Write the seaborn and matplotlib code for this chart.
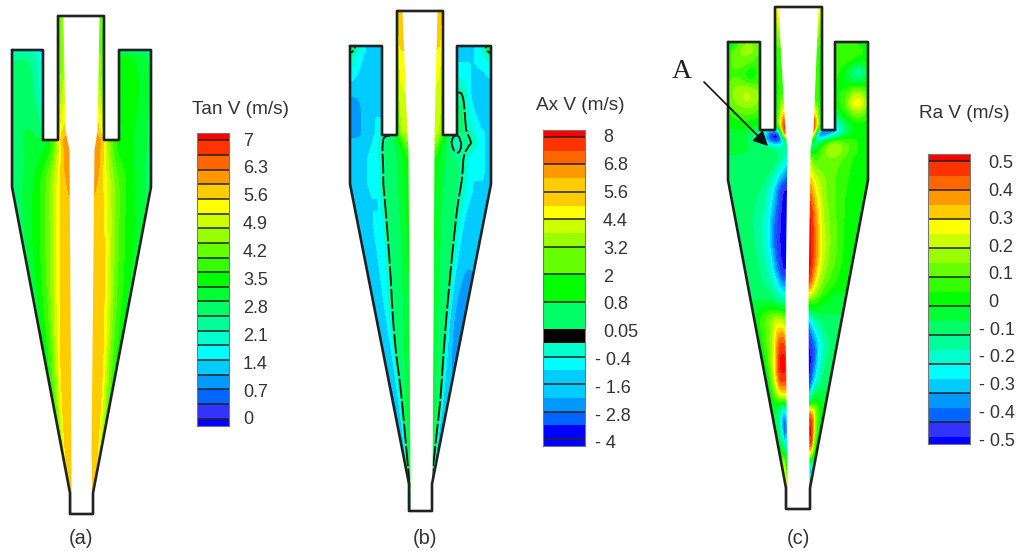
import numpy as np
import seaborn as sns
import matplotlib.pyplot as plt
from matplotlib.colors import ListedColormap
from matplotlib.patches import Polygon

W, H = 1018, 551

# band colours bottom to top, shared by the three contour fields
band_colors = ['#0000ff', '#3333ff', '#0066ff', '#0099ff', '#00ccff', '#00ffff', '#00ffcc',
               '#00ff99', '#00ff66', '#00ff33', '#00ff00', '#33ff00', '#66ff00', '#99ff00',
               '#ccff00', '#ffff00', '#ffcc00', '#ff9900', '#ff6600', '#ff3300', '#ff0000']

# fraction of the way from outer wall to the central white core
frac = [0, .2, .4, .6, .75, .9, 1]
frac_b = [0, .2, .4, .5, .6, .75, .9, 1]

# panel (a) tangential velocity
tan_ticks = ['7', '6.3', '5.6', '4.9', '4.2', '3.5', '2.8', '2.1', '1.4', '0.7', '0']
tan_y = [16, 50, 56, 90, 130, 142, 180, 250, 350, 440, 493, 516]
tan_left = [[2.8, 2.8, 2.8, 2.8, 2.8, 3.6, 4.6],
            [1.5, 1.5, 1.5, 1.2, 0.8, 3.8, 4.6],
            [2.6, 2.7, 2.6, 1.6, 1.4, 3.8, 4.6],
            [2.8, 2.8, 2.7, 1.6, 1.6, 4.0, 4.9],
            [2.7, 3.0, 3.0, 2.5, 2.8, 5.0, 5.6],
            [2.7, 3.0, 3.0, 3.1, 3.8, 5.8, 6.0],
            [2.7, 2.9, 3.3, 4.0, 4.8, 5.7, 5.8],
            [2.8, 3.3, 3.7, 4.3, 5.2, 5.7, 5.7],
            [3.2, 3.6, 4.2, 5.3, 5.7, 5.7, 5.7],
            [3.7, 4.5, 5.4, 5.7, 5.7, 5.5, 5.5],
            [4.4, 5.2, 5.6, 5.7, 5.7, 5.5, 5.5],
            [4.4, 5.2, 5.6, 5.7, 5.7, 5.5, 5.5]]
tan_right = [[4.0, 4.0, 4.0, 4.0, 4.0, 3.8, 4.4],
             [2.0, 2.0, 1.8, 1.5, 1.5, 3.6, 4.2],
             [2.9, 3.2, 3.5, 3.5, 3.5, 3.8, 4.6],
             [2.9, 3.3, 3.5, 3.5, 3.5, 4.0, 4.8],
             [2.8, 3.2, 3.4, 3.2, 3.2, 5.0, 5.7],
             [2.8, 3.2, 3.4, 3.4, 4.4, 6.0, 6.0],
             [2.7, 3.1, 3.5, 4.1, 4.8, 5.7, 5.8],
             [3.0, 3.5, 3.7, 4.5, 5.5, 5.7, 5.7],
             [3.2, 3.7, 4.4, 5.5, 5.7, 5.7, 5.7],
             [3.7, 4.7, 5.4, 5.7, 5.7, 5.6, 5.6],
             [4.4, 5.2, 5.6, 5.7, 5.7, 5.6, 5.6],
             [4.4, 5.2, 5.6, 5.7, 5.7, 5.6, 5.6]]

# panel (b) axial velocity
ax_ticks = ['8', '6.8', '5.6', '4.4', '3.2', '2', '0.8', '0.05', '- 0.4', '- 1.6', '- 2.8', '- 4']
ax_left_y = [11, 46, 53, 100, 130, 138, 150, 170, 240, 340, 400, 450, 484, 511]
ax_left = [[-1.3, -1.3, -1.3, -1.3, -1.3, -1.3, 5.4, 5.8],
           [1.6, -1.3, -1.3, -1.3, -1.3, -1.3, 5.0, 5.6],
           [0.4, -1.3, -1.3, -1.3, -1.3, -1.3, 4.8, 5.2],
           [-2.4, -2.0, -1.3, -1.3, -1.3, -1.3, 4.5, 4.6],
           [-2.2, -2.0, -1.3, -1.3, -1.3, -1.3, 4.2, 4.2],
           [-2.0, -2.0, -1.3, -1.3, 0.5, 0.7, 2.4, 4.0],
           [-1.3, -1.3, -1.3, -0.6, 0.6, 0.7, 1.6, 2.6],
           [-1.3, -1.3, -1.3, -1.3, 0.6, 0.7, 1.4, 1.9],
           [-1.3, -1.3, -1.3, -1.3, 0.6, 0.7, 1.2, 1.8],
           [-1.5, -1.3, -1.3, 0.6, 0.7, 0.8, 1.2, 1.7],
           [-2.4, -2.0, -1.3, -0.6, 0.6, 0.7, 1.3, 1.6],
           [-2.5, -1.8, -1.3, -0.6, 0.6, 0.7, 1.2, 1.6],
           [-3.0, -3.0, -1.5, -0.5, 0.5, 0.8, 1.2, 1.5],
           [-3.0, -3.0, -1.5, -0.5, 0.5, 0.8, 1.2, 1.5]]
ax_right_y = [11, 46, 53, 70, 100, 130, 140, 145, 160, 210, 290, 340, 400, 450, 484, 511]
ax_right = [[-1.3, -1.3, -1.3, -1.3, -1.3, -1.3, 5.4, 5.8],
            [1.6, -1.3, -1.3, -1.3, -1.3, -1.3, 5.0, 5.5],
            [0.4, -1.3, -1.3, -1.3, -1.3, -1.3, 4.8, 5.1],
            [-1.3, -1.3, -1.3, -1.3, -1.3, -1.3, 4.7, 4.8],
            [-1.3, -2.1, -1.3, 0.5, 0.6, 0.6, 4.5, 4.6],
            [-1.3, -1.3, -0.2, 0.6, 0.7, 0.6, 4.0, 4.5],
            [-1.3, -1.3, 0.5, 0.6, -0.8, 0.6, 2.5, 4.2],
            [-1.3, -1.3, 0.6, 0.2, -0.8, 0.6, 2.0, 3.6],
            [-1.3, -1.3, -1.3, 0.5, 0.6, 0.8, 1.4, 2.0],
            [-1.3, -1.3, -1.3, -0.6, 0.6, 0.7, 1.2, 1.8],
            [-2.1, -2.2, -1.8, -1.3, 0.5, 0.7, 1.2, 1.7],
            [-2.3, -2.2, -1.8, -1.3, 0.5, 0.7, 1.2, 1.7],
            [-1.8, -1.5, -1.3, 0.3, 0.6, 0.7, 1.2, 1.5],
            [-2.8, -2.4, -1.5, -0.5, 0.3, 0.6, 1.1, 1.4],
            [-3.0, -3.0, -2.5, -1.5, -1.0, 0.1, 0.9, 1.2],
            [-3.0, -3.0, -2.5, -1.5, -1.0, 0.1, 0.9, 1.2]]

# panel (c) radial velocity
ra_ticks = ['0.5', '0.4', '0.3', '0.2', '0.1', '0', '- 0.1', '- 0.2', '- 0.3', '- 0.4', '- 0.5']
ra_left_y = [7, 42, 55, 76, 95, 115, 125, 133, 140, 150, 170, 190, 235, 270, 290, 305, 320,
             345, 375, 395, 410, 430, 450, 465, 488, 509]
ra_left = [[0, 0, 0, 0, 0, .1, .3],
           [-.15, .05, .15, .1, 0, .05, .1],
           [.05, .15, .15, .05, 0, 0, .05],
           [.05, .05, -.08, .03, 0, 0, .05],
           [.1, .2, .25, .12, 0, 0, .05],
           [0, .05, .05, .02, 0, 0, .35],
           [-.02, 0, 0, -.05, -.1, .1, .5],
           [-.05, -.05, -.1, -.2, -.5, -.5, .5],
           [-.05, -.05, -.1, -.25, -.5, -.5, -.1],
           [-.07, -.07, -.07, -.07, -.07, -.1, -.15],
           [-.09, -.1, -.1, -.1, -.12, -.25, -.35],
           [-.09, -.1, -.1, -.13, -.25, -.5, -.5],
           [-.09, -.1, -.16, -.25, -.45, -.5, -.5],
           [-.09, -.1, -.14, -.2, -.35, -.5, -.5],
           [-.09, -.1, -.12, -.15, -.2, -.3, -.3],
           [-.07, -.07, -.06, -.05, -.1, -.1, -.1],
           [-.05, .03, .1, .15, .2, .15, .1],
           [-.05, .03, .1, .2, .4, .5, .3],
           [-.07, 0, .15, .35, .5, .5, .5],
           [-.07, 0, .1, .2, .25, .25, .25],
           [-.07, -.07, -.1, -.2, -.3, -.3, -.25],
           [-.07, -.1, -.2, -.35, -.5, -.5, -.4],
           [0, -.05, -.1, -.1, -.2, -.2, -.1],
           [.1, .15, .2, .1, 0, 0, 0],
           [.3, .3, .2, .1, .1, 0, 0],
           [.3, .3, .2, .1, .1, 0, 0]]
ra_right_y = [7, 42, 55, 75, 100, 115, 125, 133, 145, 160, 180, 210, 250, 280, 300, 325, 350,
              380, 400, 415, 440, 455, 470, 488, 509]
ra_right = [[0, 0, 0, 0, 0, .1, .3],
            [-.05, 0, .05, .05, 0, .05, .1],
            [.02, .08, .1, .05, 0, 0, .05],
            [-.1, -.3, -.1, .05, 0, 0, .05],
            [.1, .4, .1, 0, 0, 0, .05],
            [.02, .1, 0, -.1, 0, 0, .35],
            [0, 0, -.1, -.3, -.2, .1, .5],
            [0, 0, -.1, -.4, -.5, -.5, .4],
            [0, .03, .12, .25, .1, -.1, -.2],
            [0, 0, .05, .1, .1, .05, .15],
            [0, 0, .03, .08, .12, .2, .3],
            [-.02, -.02, .03, .1, .15, .35, .5],
            [0, 0, .08, .15, .25, .45, .5],
            [0, 0, .05, .1, .18, .35, .5],
            [-.05, -.05, -.05, 0, .05, .1, .1],
            [-.1, -.1, -.1, -.15, -.2, -.35, -.45],
            [-.1, -.12, -.18, -.3, -.45, -.5, -.5],
            [-.1, -.1, -.15, -.25, -.35, -.5, -.5],
            [-.05, -.05, -.05, 0, -.1, -.2, -.2],
            [0, 0, .05, .15, .35, .45, .45],
            [0, 0, .05, .2, .45, .5, .5],
            [-.1, -.05, 0, .1, .15, .2, .2],
            [-.1, -.3, -.45, -.5, -.5, -.45, -.3],
            [0, -.1, -.2, -.1, -.05, 0, 0],
            [0, -.1, -.2, -.1, -.05, 0, 0]]

# colour bar bands, top to bottom, with their height in half bands
tan_bar = band_colors[::-1]
tan_span = [1] + [2] * 19 + [1]
tan_rules = list(range(20))

ax_bar = ['#ff0000', '#ff3300', '#ff6600', '#ff9900', '#ffcc00', '#ffcc00', '#ffff00', '#ccff00',
          '#99ff00', '#66ff00', '#00ff00', '#00ff66', '#000000', '#00ffcc', '#00ffff', '#00ccff',
          '#00ccff', '#0099ff', '#0066ff', '#0000ff', '#0000ff']
ax_span = [1, 2, 2, 2, 2, 2, 2, 2, 2, 4, 4, 4, 2, 2, 2, 2, 2, 2, 2, 2, 1]
ax_rules = [0, 2, 4, 6, 8, 9, 10, 13, 15, 17, 19]

ra_bar = band_colors[::-1]
ra_span = tan_span
ra_rules = list(range(0, 20, 2))

# outlines: (x, y) of each cyclone wall
out_a_x = [12, 12, 70, 70, 93, 93, 151, 151, 119, 119, 104, 104, 58, 58, 43, 43, 12]
out_a_y = [50, 187, 493, 514, 514, 493, 187, 50, 50, 140, 140, 16, 16, 140, 140, 50, 50]
out_b_x = [350, 350, 409, 409, 432, 432, 491, 491, 457, 457, 443, 443, 397, 397, 382, 382, 350]
out_b_y = [46, 184, 484, 511, 511, 484, 184, 46, 46, 135, 135, 11, 11, 135, 135, 46, 46]
out_c_x = [728, 728, 786, 786, 810, 810, 868, 868, 835, 835, 822, 822, 775, 775, 760, 760, 728]
out_c_y = [42, 180, 488, 509, 509, 488, 180, 42, 42, 130, 130, 7, 7, 130, 130, 42, 42]

# white core: y, left edge, right edge
core_a = ([16, 130, 150, 450, 516], [63, 65, 69, 71, 71], [99, 97, 94, 91, 92])
core_b = ([11, 135, 150, 484, 511], [402, 407, 408, 410, 410], [437, 434, 434, 432, 432])
core_c = ([7, 130, 150, 300, 488, 509], [778, 785, 787, 785, 787, 787], [818, 813, 810, 808, 809, 809])


def px_axes(fig, x0, y0, x1, y1):
    return fig.add_axes([x0 / W, 1 - y1 / H, (x1 - x0) / W, (y1 - y0) / H])


def soften(grid, n=5):
    # finer mesh plus a small box filter, so the bands come out round
    r = np.arange(grid.shape[0])
    c = np.arange(grid.shape[1])
    fine_r = np.linspace(0, r[-1], r[-1] * n + 1)
    fine_c = np.linspace(0, c[-1], c[-1] * n + 1)
    out = np.array([np.interp(fine_c, c, row) for row in grid])
    out = np.array([np.interp(fine_r, r, col) for col in out.T]).T
    k = np.ones(n) / n
    pad = n // 2
    for axis in (0, 1):
        padded = np.pad(out, [(pad, pad) if a == axis else (0, 0) for a in (0, 1)], mode='edge')
        out = np.apply_along_axis(lambda v: np.convolve(v, k, mode='valid'), axis, padded)
    return out, fine_r, fine_c


def draw_half(ax, rows, values, cols, wall_x, wall_y, core, vmin, vmax, clip, zero=False):
    step = (vmax - vmin) / 20
    levels = vmin - step / 2 + step * np.arange(22)
    Z, fine_r, fine_c = soften(np.clip(np.array(values, dtype=float), vmin, vmax))
    y = np.interp(fine_r, np.arange(len(rows)), rows)
    u = np.interp(fine_c, np.arange(len(cols)), cols)
    wall = np.interp(y, wall_y, wall_x)
    inner = np.interp(y, core[0], core[1])
    X = wall[:, None] + (inner - wall)[:, None] * u[None, :]
    Y = np.repeat(y[:, None], len(u), axis=1)
    cs = ax.contourf(X, Y, Z, levels=levels, colors=band_colors, zorder=1)
    cs.set_edgecolor('face')
    cs.set_clip_path(clip)
    if zero:
        line = ax.contour(X, Y, Z, levels=[0.05], colors='#111111', linewidths=1.3,
                          linestyles=[(0, (11, 1.5))], zorder=2)
        line.set_clip_path(clip)


def draw_panel(ax, out_x, out_y, core, left, right, cols, vmin, vmax, zero=False):
    clip = Polygon(np.column_stack([out_x, out_y]), closed=True, transform=ax.transData,
                   facecolor='none', edgecolor='none')
    ax.add_patch(clip)
    lx = out_x[:4]
    rx = [out_x[7], out_x[6], out_x[5], out_x[4]]
    wy = out_y[:4]
    draw_half(ax, left[0], left[1], cols, lx, wy, (core[0], core[1]), vmin, vmax, clip, zero)
    draw_half(ax, right[0], right[1], cols, rx, wy, (core[0], core[2]), vmin, vmax, clip, zero)
    ax.fill_betweenx(core[0], core[1], core[2], color='white', lw=0, zorder=3)
    sns.lineplot(x=out_x, y=out_y, sort=False, estimator=None, color='#222222', lw=1.9,
                 ax=ax, legend=False, zorder=4)


def draw_bar(fig, box, colors, spans, rules):
    cax = px_axes(fig, *box)
    ids = np.repeat(np.arange(len(colors)), spans)[:, None]
    sns.heatmap(ids, cmap=ListedColormap(colors), vmin=-.5, vmax=len(colors) - .5, cbar=False,
                xticklabels=False, yticklabels=False, ax=cax)
    edges = np.cumsum(spans)
    cax.hlines(edges[rules], 0, 1, color='#222222', lw=1.1)
    for s in cax.spines.values():
        s.set_visible(True)
        s.set_color('#777777')
        s.set_linewidth(.8)


sns.set_theme(style='white')
plt.rcParams['font.family'] = ['Liberation Sans', 'DejaVu Sans']

fig = plt.figure(figsize=(W / 100, H / 100), dpi=100)
ax = fig.add_axes([0, 0, 1, 1])

draw_panel(ax, out_a_x, out_a_y, core_a, (tan_y, tan_left), (tan_y, tan_right), frac, 0, 7)
draw_panel(ax, out_b_x, out_b_y, core_b, (ax_left_y, ax_left), (ax_right_y, ax_right), frac_b, -4, 8, zero=True)
draw_panel(ax, out_c_x, out_c_y, core_c, (ra_left_y, ra_left), (ra_right_y, ra_right), frac, -.5, .5)

ax.set_xlim(0, W)
ax.set_ylim(H, 0)
ax.axis('off')

draw_bar(fig, (197, 133, 229, 426), tan_bar, tan_span, tan_rules)
draw_bar(fig, (543, 130, 585, 446), ax_bar, ax_span, ax_rules)
draw_bar(fig, (928, 154, 970, 444), ra_bar, ra_span, ra_rules)

txt = dict(color='#333333', fontsize=13, va='center')
for label, y in zip(tan_ticks, np.linspace(141, 420, len(tan_ticks))):
    ax.text(243, y, label, ha='left', **txt)
for label, y in zip(ax_ticks, np.linspace(138, 444, len(ax_ticks))):
    ax.text(595 if label.startswith('-') else 603, y, label, ha='left', **txt)
for label, y in zip(ra_ticks, np.linspace(164, 441, len(ra_ticks))):
    ax.text(979 if label.startswith('-') else 988, y, label, ha='left', **txt)

txt['fontsize'] = 13.7
ax.text(240, 110, 'Tan V (m/s)', ha='center', **txt)
ax.text(580, 106, 'Ax V (m/s)', ha='center', **txt)
ax.text(964, 113, 'Ra V (m/s)', ha='center', **txt)
txt['fontsize'] = 14.5
ax.text(81, 538, '(a)', ha='center', **txt)
ax.text(425, 538, '(b)', ha='center', **txt)
ax.text(798, 538, '(c)', ha='center', **txt)

ax.text(682, 71, 'A', ha='center', va='center', fontsize=20, family='Liberation Serif', color='#222222')
ax.annotate('', xy=(768, 146), xytext=(704, 82),
            arrowprops=dict(arrowstyle='-|>', color='#111111', lw=1.2, mutation_scale=22, shrinkA=0, shrinkB=0),
            zorder=6)

fig.savefig('out.png', dpi=100)
